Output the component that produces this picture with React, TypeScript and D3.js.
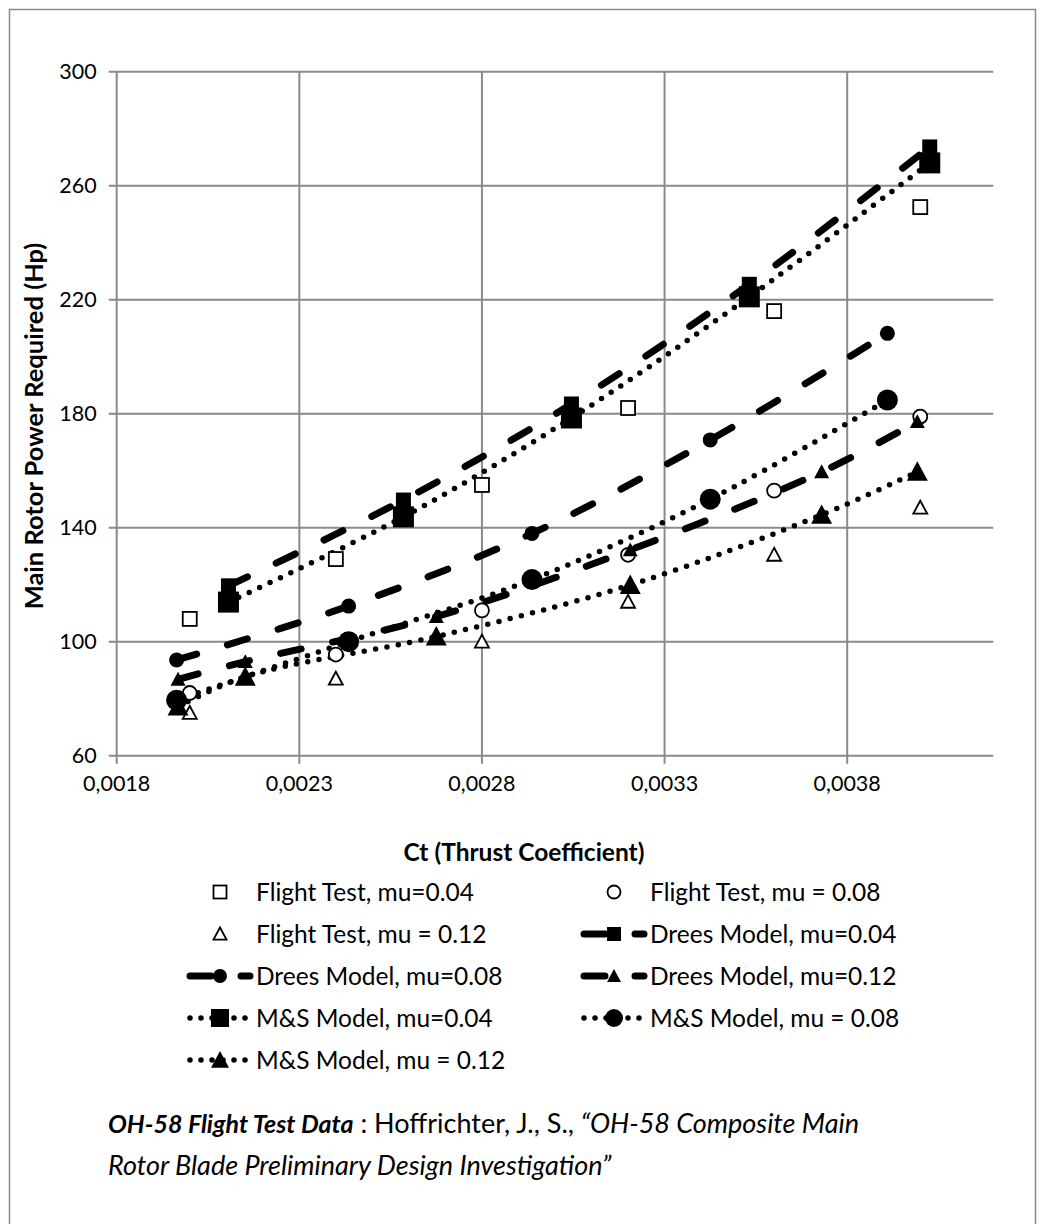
import React from 'react';
import * as d3 from 'd3';

// ---------- data ----------
const xTicks = [0.0018, 0.0023, 0.0028, 0.0033, 0.0038];
const yTicks = [60, 100, 140, 180, 220, 260, 300];

const ctFlight = [0.0020, 0.0024, 0.0028, 0.0032, 0.0036, 0.0040];
const flightMu004 = [108, 129, 155, 182, 216, 252.5];
const flightMu008 = [82, 95.5, 111, 130.5, 153, 179];
const flightMu012 = [75, 87, 100, 114, 130.5, 147];

const ctMu004 = [0.002106, 0.002585, 0.003045, 0.003532, 0.004026];
const dreesMu004 = [119.6, 149.7, 183.4, 225.4, 273.6];
const msMu004 = [113.9, 143.8, 178.5, 221, 268];

const ctMu008 = [0.001964, 0.002435, 0.002937, 0.003425, 0.00391];
const dreesMu008 = [93.6, 112.5, 138, 170.8, 208.2];
const msMu008 = [79.5, 100, 121.8, 150, 184.8];

const ctMu012 = [0.001968, 0.002152, 0.002675, 0.003206, 0.00373, 0.003992];
const dreesMu012 = [86.8, 93, 108.8, 132.2, 159.6, 177.2];
const msMu012 = [77.2, 87.7, 101.8, 119.9, 144.5, 159.6];

const legendLabels = [
  'Flight Test, mu=0.04',
  'Flight Test, mu = 0.08',
  'Flight Test, mu = 0.12',
  'Drees Model, mu=0.04',
  'Drees Model, mu=0.08',
  'Drees Model, mu=0.12',
  'M&S Model, mu=0.04',
  'M&S Model, mu = 0.08',
  'M&S Model, mu = 0.12',
];

type Shape = 'square' | 'circle' | 'triangle';
type Kind = 'flight' | 'drees' | 'ms';

interface Series {
  label: string;
  kind: Kind;
  shape: Shape;
  xs: number[];
  ys: number[];
}

const series: Series[] = [
  { label: legendLabels[0], kind: 'flight', shape: 'square', xs: ctFlight, ys: flightMu004 },
  { label: legendLabels[1], kind: 'flight', shape: 'circle', xs: ctFlight, ys: flightMu008 },
  { label: legendLabels[2], kind: 'flight', shape: 'triangle', xs: ctFlight, ys: flightMu012 },
  { label: legendLabels[3], kind: 'drees', shape: 'square', xs: ctMu004, ys: dreesMu004 },
  { label: legendLabels[4], kind: 'drees', shape: 'circle', xs: ctMu008, ys: dreesMu008 },
  { label: legendLabels[5], kind: 'drees', shape: 'triangle', xs: ctMu012, ys: dreesMu012 },
  { label: legendLabels[6], kind: 'ms', shape: 'square', xs: ctMu004, ys: msMu004 },
  { label: legendLabels[7], kind: 'ms', shape: 'circle', xs: ctMu008, ys: msMu008 },
  { label: legendLabels[8], kind: 'ms', shape: 'triangle', xs: ctMu012, ys: msMu012 },
];

// ---------- layout ----------
const W = 1042;
const H = 1224;
const P = { left: 116.7, right: 993.3, top: 71.7, bottom: 755.7 };
const FONT = "Lato, 'Open Sans', sans-serif";
const FS_TICK = 21.5;
const FS_TEXT = 24.5;
const FS_TITLE = 24.5;
const FS_CAP = 27;
const GRID = '#8a8a8a';

const markerSize: Record<Kind, number> = { flight: 14, drees: 15, ms: 21 };

function Marker({ shape, kind, cx, cy, size }: { shape: Shape; kind: Kind; cx: number; cy: number; size?: number }) {
  const s = size ?? markerSize[kind];
  const open = kind === 'flight';
  const fill = open ? '#fff' : '#000';
  const stroke = '#000';
  const sw = open ? 1.8 : 0;
  const h = s / 2;
  if (shape === 'square') {
    return <rect x={cx - h} y={cy - h} width={s} height={s} fill={fill} stroke={stroke} strokeWidth={sw} />;
  }
  if (shape === 'circle') {
    return <circle cx={cx} cy={cy} r={h} fill={fill} stroke={stroke} strokeWidth={sw} />;
  }
  const p = `M${cx},${cy - h}L${cx + h},${cy + h * 0.85}L${cx - h},${cy + h * 0.85}Z`;
  return <path d={p} fill={fill} stroke={stroke} strokeWidth={sw} strokeLinejoin="miter" />;
}

const lineStyle: Record<Kind, { w: number; dash: string }> = {
  flight: { w: 0, dash: '' },
  drees: { w: 7, dash: '21 32' },
  ms: { w: 5.5, dash: '0 11.5' },
};

export default function App() {
  const x = d3.scaleLinear().domain([0.0018, 0.0042]).range([P.left, P.right]);
  const y = d3.scaleLinear().domain([60, 300]).range([P.bottom, P.top]);
  const lineGen = d3
    .line<[number, number]>()
    .x((d) => x(d[0]))
    .y((d) => y(d[1]))
    .curve(d3.curveCatmullRom.alpha(0.5));
  const fmt = (v: number) => d3.format('.4f')(v).replace('.', ',');

  // legend layout
  const legendRowY = [892, 934, 976, 1018, 1060];
  const legendColSym = [220, 614];
  const legendColText = [256, 650];
  const sampleHalf = 33;

  return (
    <svg
      width={W}
      height={H}
      style={{ position: 'absolute', left: 0, top: 0, background: '#fff' }}
      fontFamily={FONT}
    >
      <rect x={0} y={0} width={W} height={H} fill="#fff" />
      {/* chart border */}
      <rect x={9.5} y={9.5} width={1026} height={1230} fill="none" stroke={GRID} strokeWidth={1.5} />

      {/* gridlines */}
      {yTicks.map((t) => (
        <line key={'gy' + t} x1={P.left - 8} x2={P.right} y1={y(t)} y2={y(t)} stroke={GRID} strokeWidth={2} />
      ))}
      {xTicks.map((t) => (
        <line key={'gx' + t} x1={x(t)} x2={x(t)} y1={P.top} y2={P.bottom + 8} stroke={GRID} strokeWidth={2} />
      ))}

      {/* tick labels */}
      {yTicks.map((t) => (
        <text key={'ly' + t} x={P.left - 20} y={y(t)} dy="0.35em" textAnchor="end" fontSize={FS_TICK} fill="#000">
          {t}
        </text>
      ))}
      {xTicks.map((t) => (
        <text key={'lx' + t} x={x(t)} y={783} dy="0.35em" textAnchor="middle" fontSize={FS_TICK} fill="#000">
          {fmt(t)}
        </text>
      ))}

      {/* axis titles */}
      <text x={524} y={852} dy="0.35em" textAnchor="middle" fontSize={FS_TITLE} fontWeight="bold">
        Ct (Thrust Coefficient)
      </text>
      <text
        transform={`translate(34, 426) rotate(-90)`}
        textAnchor="middle"
        dy="0.35em"
        fontSize={FS_TITLE + 1}
        fontWeight="bold"
      >
        Main Rotor Power Required (Hp)
      </text>

      {/* lines */}
      {series
        .filter((s) => s.kind !== 'flight')
        .map((s) => {
          const st = lineStyle[s.kind];
          const pts = s.xs.map((v, i) => [v, s.ys[i]] as [number, number]);
          return (
            <path
              key={'ln' + s.label}
              d={lineGen(pts) || ''}
              fill="none"
              stroke="#000"
              strokeWidth={st.w}
              strokeDasharray={st.dash}
              strokeLinecap="round"
            />
          );
        })}

      {/* markers */}
      {series.map((s) => (
        <g key={'mk' + s.label}>
          {s.xs.map((v, i) => (
            <Marker key={i} shape={s.shape} kind={s.kind} cx={x(v)} cy={y(s.ys[i])} />
          ))}
        </g>
      ))}

      {/* legend */}
      {series.map((s, i) => {
        const row = Math.floor(i / 2);
        const col = i % 2;
        const cy = legendRowY[row];
        const cx = legendColSym[col];
        const st = lineStyle[s.kind];
        return (
          <g key={'lg' + s.label}>
            {s.kind !== 'flight' && (
              <line
                x1={cx - sampleHalf + 3}
                x2={cx + sampleHalf - 3}
                y1={cy}
                y2={cy}
                stroke="#000"
                strokeWidth={st.w}
                strokeDasharray={s.kind === 'drees' ? '21 30' : '0 11'}
                strokeLinecap="round"
              />
            )}
            <Marker
              shape={s.shape}
              kind={s.kind}
              cx={cx}
              cy={cy}
              size={s.kind === 'flight' ? 13 : s.kind === 'drees' ? 14 : 18}
            />
            <text x={legendColText[col]} y={cy} dy="0.35em" fontSize={FS_TEXT} fill="#000">
              {s.label}
            </text>
          </g>
        );
      })}

      {/* caption */}
      <text x={108} y={1124} dy="0.35em" fontSize={FS_CAP} fill="#000">
        <tspan fontWeight="bold" fontStyle="italic" fontSize={25}>OH-58 Flight Test Data</tspan>
        <tspan> : Hoffrichter, J., S., </tspan>
        <tspan fontStyle="italic">“OH-58 Composite Main</tspan>
      </text>
      <text x={108} y={1166} dy="0.35em" fontSize={FS_CAP} fill="#000" fontStyle="italic">
        Rotor Blade Preliminary Design Investigation”
      </text>
    </svg>
  );
}
